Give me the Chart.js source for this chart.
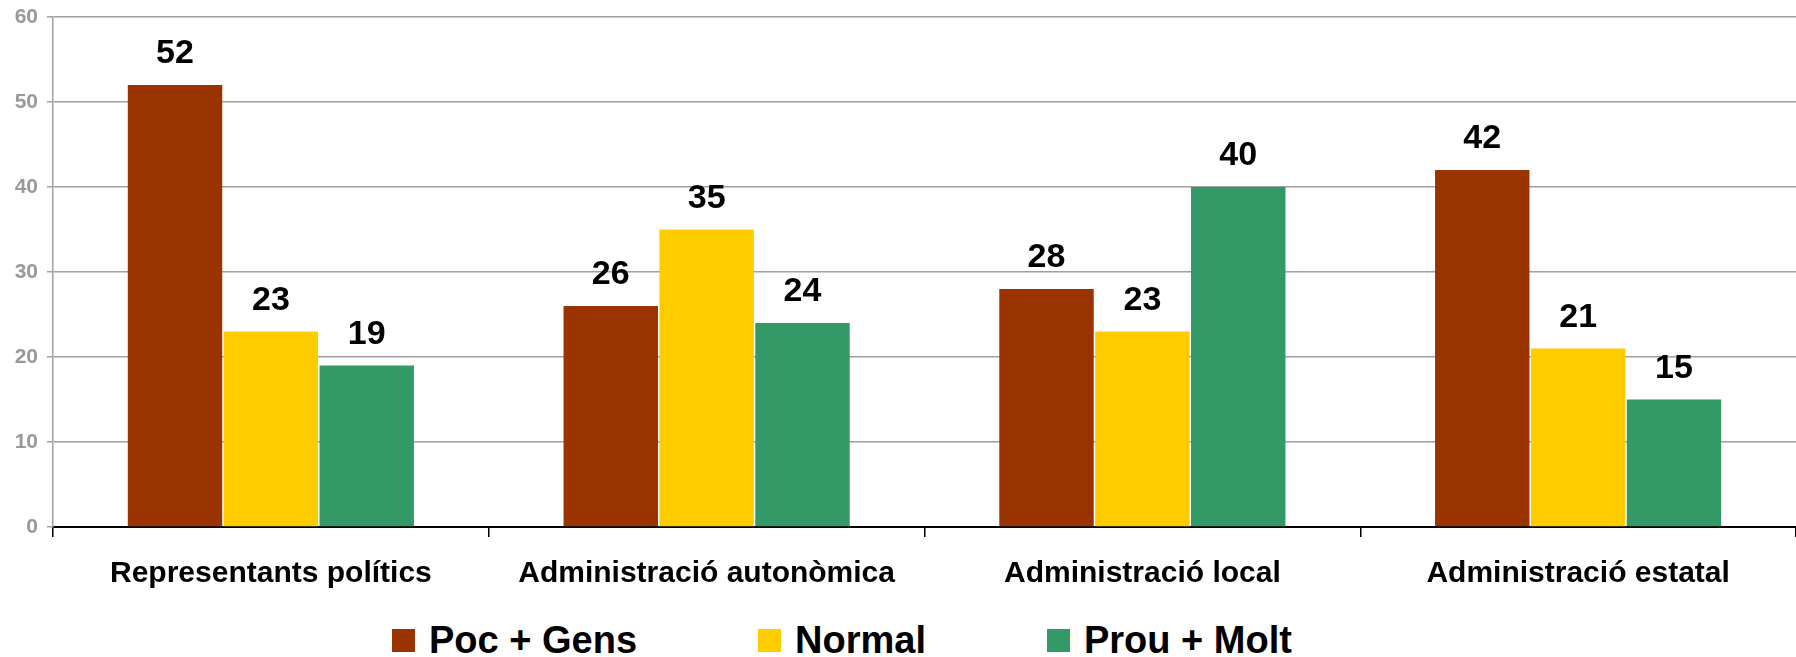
<!DOCTYPE html>
<html>
<head>
<meta charset="utf-8">
<script src="https://cdn.jsdelivr.net/npm/chart.js@4/dist/chart.umd.min.js"></script>
<style>
  html, body { margin: 0; padding: 0; background: #fff; }
  #wrap { position: relative; width: 1796px; height: 657px; }
  #chartBox { position: absolute; left: 0; top: 0; width: 1796px; height: 611px; }
  #legend {
    position: absolute; left: 392px; top: 619px;
    display: flex; gap: 121px; align-items: center;
    font: bold 38px "Liberation Sans", Arial, sans-serif; color: #000;
  }
  .legend-item { display: flex; align-items: center; }
  .legend-box { width: 23px; height: 23px; margin-right: 14px; }
</style>
</head>
<body>
<div id="wrap">
  <div id="chartBox"><canvas id="barChart"></canvas></div>
  <div id="legend"></div>
</div>
<script>
// Chart data
const categories = [
  "Representants polítics",
  "Administració autonòmica",
  "Administració local",
  "Administració estatal",
];
const seriesNames = ["Poc + Gens", "Normal", "Prou + Molt"];
const pocGens = [52, 26, 28, 42];
const normal = [23, 35, 23, 21];
const prouMolt = [19, 24, 40, 15];
const yTicks = [0, 10, 20, 30, 40, 50, 60];

const seriesColors = ["#993300", "#FFCC00", "#339966"];
const fontFamily = '"Liberation Sans", Arial, sans-serif';

/**
 * Draw the value above each bar
 */
const valueLabels = {
  id: "valueLabels",
  afterDatasetsDraw(chart) {
    const ctx = chart.ctx;
    ctx.save();
    ctx.font = `bold 34px ${fontFamily}`;
    ctx.fillStyle = "#000";
    ctx.textAlign = "center";
    ctx.textBaseline = "alphabetic";
    chart.data.datasets.forEach((ds, i) => {
      chart.getDatasetMeta(i).data.forEach((bar, j) => {
        ctx.fillText(String(ds.data[j]), bar.x, bar.y - 22);
      });
    });
    ctx.restore();
  },
};

/**
 * Build the legend below the canvas from the datasets
 */
const htmlLegend = {
  id: "htmlLegend",
  afterUpdate(chart) {
    const legendEl = document.getElementById("legend");
    legendEl.innerHTML = "";
    chart.data.datasets.forEach((ds) => {
      const item = document.createElement("div");
      item.className = "legend-item";
      item.innerHTML = `<span class="legend-box" style="background:${ds.backgroundColor}"></span><span>${ds.label}</span>`;
      legendEl.appendChild(item);
    });
  },
};

const values = [pocGens, normal, prouMolt];

new Chart(document.getElementById("barChart"), {
  type: "bar",
  data: {
    labels: categories,
    datasets: seriesNames.map((name, i) => ({
      label: name,
      data: values[i],
      backgroundColor: seriesColors[i],
      categoryPercentage: 0.66,
      barPercentage: 0.985,
    })),
  },
  options: {
    responsive: true,
    maintainAspectRatio: false,
    animation: false,
    devicePixelRatio: 1,
    layout: {
      padding: { top: 17, right: 0, bottom: 0, left: 0 },
    },
    plugins: {
      legend: { display: false },
      tooltip: { enabled: false },
    },
    scales: {
      x: {
        grid: {
          display: true,
          drawOnChartArea: false,
          tickLength: 10,
          color: "#000",
          lineWidth: 1.5,
        },
        border: { color: "#000", width: 2 },
        ticks: {
          color: "#000",
          padding: 19,
          font: { family: fontFamily, size: 30, weight: "bold" },
        },
      },
      y: {
        min: yTicks[0],
        max: yTicks[yTicks.length - 1],
        afterFit(scale) {
          scale.width = 53;
          scale.paddingTop = 0;
        },
        afterBuildTicks(scale) {
          scale.ticks = yTicks.map((v) => ({ value: v }));
        },
        grid: {
          color: "#a0a0a0",
          lineWidth: 1.5,
          tickLength: 6,
        },
        border: { color: "#a0a0a0", width: 1.5 },
        ticks: {
          color: "#999999",
          padding: 9,
          font: { family: fontFamily, size: 21, weight: "bold" },
        },
      },
    },
  },
  plugins: [valueLabels, htmlLegend],
});
</script>
</body>
</html>
